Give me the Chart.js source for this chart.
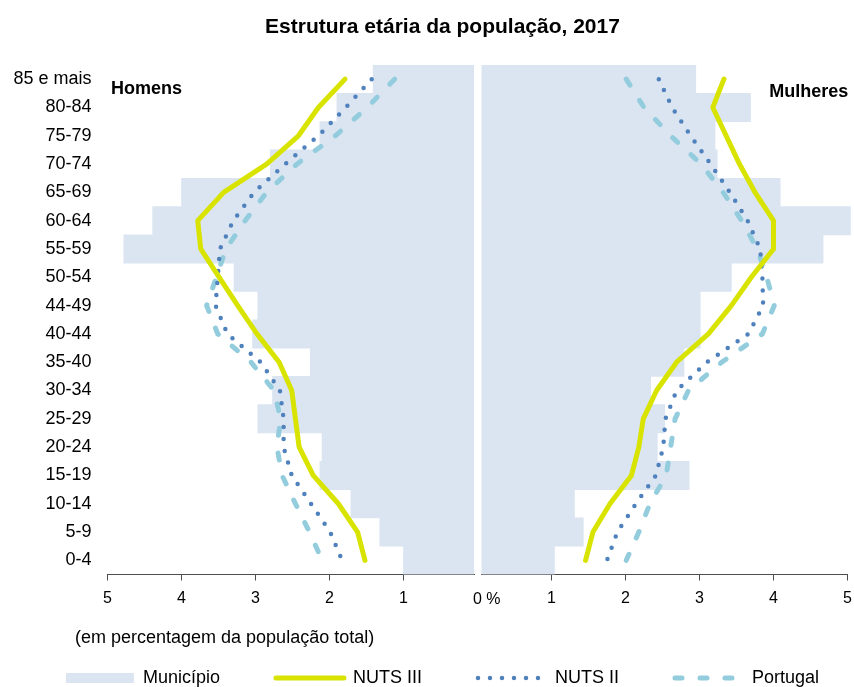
<!DOCTYPE html>
<html lang="pt">
<head>
<meta charset="utf-8">
<title>Estrutura etária da população, 2017</title>
<script src="https://cdn.jsdelivr.net/npm/chart.js@4"></script>
<style>
  body { margin: 0; background: #fff; font-family: 'Liberation Sans', Arial, sans-serif; }
  #quadro { position: relative; width: 854px; height: 687px; overflow: hidden; }
  #quadro canvas { position: absolute; left: 0; top: 0; }
  .rotulo { position: absolute; color: #000; white-space: nowrap; line-height: 1; }
</style>
</head>
<body>
<div id="quadro">
  <canvas id="graficaHomens" width="854" height="687"></canvas>
  <canvas id="graficaMulheres" width="854" height="687"></canvas>
  <div class="rotulo" style="left:111px; top:78.5px; font-size:18px; font-weight:bold;">Homens</div>
  <div class="rotulo" style="right:5.7px; top:81.5px; font-size:18px; font-weight:bold;">Mulheres</div>
  <div class="rotulo" style="left:473px; top:591px; font-size:16px;">0 %</div>
  <div class="rotulo" style="left:75px; top:628px; font-size:18px;">(em percentagem da população total)</div>
</div>
<script>
const categorias = ['85 e mais', '80-84', '75-79', '70-74', '65-69', '60-64', '55-59', '50-54', '44-49',
    '40-44', '35-40', '30-34', '25-29', '20-24', '15-19', '10-14', '5-9', '0-4'];

const municipioHomens = [1.41, 1.90, 2.13, 2.80, 4.00, 4.39, 4.78, 3.29, 2.97, 3.04, 2.26, 2.77, 2.97, 2.10, 2.13, 1.71, 1.32, 1.00];
const nuts3Homens = [1.79, 2.15, 2.42, 2.85, 3.43, 3.78, 3.74, 3.49, 3.24, 2.98, 2.68, 2.51, 2.46, 2.41, 2.22, 1.88, 1.62, 1.52];
const nuts2Homens = [1.43, 1.78, 2.15, 2.60, 3.02, 3.30, 3.48, 3.51, 3.54, 3.38, 2.93, 2.67, 2.62, 2.62, 2.51, 2.25, 1.99, 1.83];
const portugalHomens = [1.12, 1.49, 1.92, 2.44, 2.85, 3.14, 3.40, 3.53, 3.66, 3.51, 3.06, 2.75, 2.66, 2.71, 2.64, 2.46, 2.27, 2.10];

const municipioMulheres = [2.95, 3.69, 3.21, 3.24, 4.09, 5.04, 4.67, 3.43, 3.01, 3.01, 2.79, 2.34, 2.53, 2.43, 2.86, 1.31, 1.43, 1.04];
const nuts3Mulheres = [3.33, 3.18, 3.36, 3.54, 3.75, 4.00, 4.00, 3.70, 3.43, 3.12, 2.69, 2.42, 2.24, 2.18, 2.08, 1.79, 1.56, 1.46];
const nuts2Mulheres = [2.45, 2.63, 2.88, 3.15, 3.41, 3.65, 3.82, 3.85, 3.86, 3.66, 3.10, 2.69, 2.54, 2.51, 2.41, 2.14, 1.89, 1.75];
const portugalMulheres = [2.01, 2.25, 2.61, 3.02, 3.32, 3.57, 3.78, 3.91, 4.01, 3.85, 3.30, 2.85, 2.67, 2.61, 2.55, 2.33, 2.18, 2.01];

const ticksValores = [1, 2, 3, 4, 5];

const COR_MUNICIPIO = '#dbe5f1';
const COR_NUTS3 = '#d8e300';
const COR_NUTS2 = '#4f81bd';
const COR_PORTUGAL = '#93cddd';
const COR_EIXO = '#4d4d4d';

Chart.defaults.font.family = "'Liberation Sans', Arial, sans-serif";
Chart.defaults.color = '#000';

function construirDatasets(municipio, nuts3, nuts2, portugal, recorte) {
    return [
        {
            type: 'bar', label: 'Município', data: municipio,
            backgroundColor: COR_MUNICIPIO, borderWidth: 0,
            barPercentage: 1, categoryPercentage: 1,
            pointStyle: 'rect', order: 3, clip: recorte
        },
        {
            type: 'line', label: 'NUTS III', data: nuts3,
            borderColor: COR_NUTS3, backgroundColor: COR_NUTS3, borderWidth: 5,
            borderJoinStyle: 'round', borderCapStyle: 'round',
            pointRadius: 0, pointStyle: 'line', order: 0
        },
        {
            type: 'line', label: 'NUTS II', data: nuts2,
            borderColor: COR_NUTS2, backgroundColor: COR_NUTS2, borderWidth: 4.5,
            borderDash: [0, 12], borderCapStyle: 'round',
            pointRadius: 0, pointStyle: 'line', order: 1
        },
        {
            type: 'line', label: 'Portugal', data: portugal,
            borderColor: COR_PORTUGAL, backgroundColor: COR_PORTUGAL, borderWidth: 5,
            borderDash: [7, 18], borderCapStyle: 'round',
            pointRadius: 0, pointStyle: 'line', order: 2
        }
    ];
}

// eixo dos valores (%): marcas por baixo da linha, rótulos 1..5
function eixoValores(invertido, minimo, altura) {
    return {
        type: 'linear',
        position: 'bottom',
        reverse: invertido,
        min: minimo,
        max: 5,
        afterBuildTicks: (escala) => { escala.ticks = ticksValores.map(v => ({ value: v })); },
        afterFit: (escala) => { escala.height = altura; },
        grid: { drawOnChartArea: false, drawTicks: true, tickLength: 6, color: COR_EIXO },
        border: { display: true, color: COR_EIXO, width: 1 },
        ticks: { font: { size: 16, lineHeight: 2.3 }, color: '#000', padding: 0 }
    };
}

function eixoVazio(posicao, largura) {
    return {
        type: 'category',
        position: posicao,
        offset: true,
        grid: { display: false, drawTicks: false },
        border: { display: false },
        ticks: { display: false },
        afterFit: (escala) => { escala.width = largura; }
    };
}

function gerarLegenda(chart) {
    const itens = Chart.defaults.plugins.legend.labels.generateLabels(chart);
    itens.forEach(item => {
        const ds = chart.data.datasets[item.datasetIndex];
        item.pointStyle = ds.pointStyle;
        item.fillStyle = ds.backgroundColor;
        if (ds.type === 'line') {
            item.lineWidth = ds.borderWidth;
            item.lineDash = ds.borderDash || [];
            item.lineCap = ds.borderCapStyle;
            item.strokeStyle = ds.borderColor;
        } else {
            item.lineWidth = 0;
        }
    });
    return itens.sort((a, b) => a.datasetIndex - b.datasetIndex);
}

// Homens (lado esquerdo, eixo invertido)
new Chart(document.getElementById('graficaHomens'), {
    type: 'bar',
    data: {
        labels: categorias,
        datasets: construirDatasets(municipioHomens, nuts3Homens, nuts2Homens, portugalHomens,
            { left: 4, top: 0, right: 0, bottom: 0 })
    },
    options: {
        indexAxis: 'y',
        responsive: false,
        animation: false,
        devicePixelRatio: 1,
        layout: { padding: { left: 0, right: 380, top: 65, bottom: 0 } },
        plugins: {
            legend: { display: false },
            title: { display: false },
            tooltip: { enabled: false }
        },
        scales: {
            x: eixoValores(true, 0.047, 112.5),
            y: {
                type: 'category',
                position: 'left',
                offset: true,
                grid: { display: false, drawTicks: false },
                border: { display: false },
                ticks: { font: { size: 18 }, color: '#000', padding: 16, autoSkip: false },
                afterFit: (escala) => { escala.width = 107.5; }
            }
        }
    }
});

// Mulheres (lado direito) + título e legenda
new Chart(document.getElementById('graficaMulheres'), {
    type: 'bar',
    data: {
        labels: categorias,
        datasets: construirDatasets(municipioMulheres, nuts3Mulheres, nuts2Mulheres, portugalMulheres,
            { left: 0, top: 0, right: 4, bottom: 0 })
    },
    options: {
        indexAxis: 'y',
        responsive: false,
        animation: false,
        devicePixelRatio: 1,
        // padding negativo à direita para a legenda caber numa só linha
        layout: { padding: { left: 6, right: -25, top: 0, bottom: 0 } },
        plugins: {
            title: {
                display: true,
                text: 'Estrutura etária da população, 2017',
                font: { size: 21, weight: 'bold' },
                color: '#000',
                padding: { top: 14.4, bottom: 25.4 }
            },
            legend: {
                display: true,
                position: 'bottom',
                maxHeight: 74,
                labels: {
                    usePointStyle: true,
                    pointStyleWidth: 68,
                    boxHeight: 10,
                    padding: 56,
                    font: { size: 18 },
                    color: '#000',
                    generateLabels: gerarLegenda
                }
            },
            tooltip: { enabled: false }
        },
        scales: {
            x: eixoValores(false, 0.054, 38.5),
            y: eixoVazio('left', 475.5),
            yDireita: eixoVazio('right', 31.5)
        }
    }
});
</script>
</body>
</html>
